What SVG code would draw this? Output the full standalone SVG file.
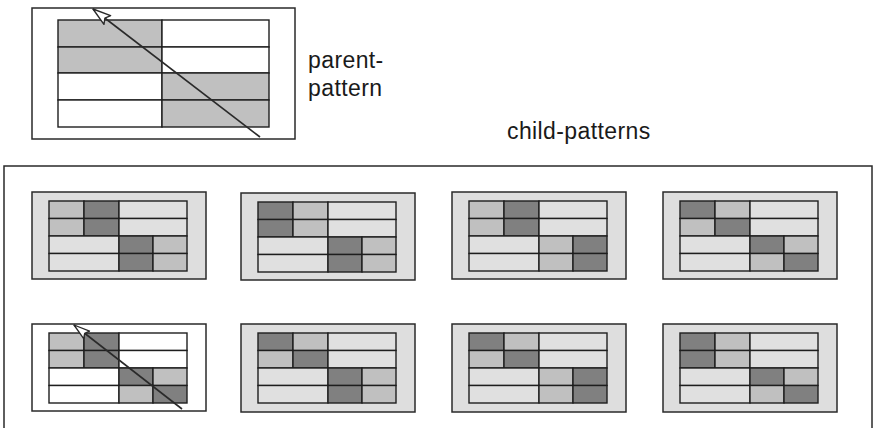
<svg xmlns="http://www.w3.org/2000/svg" width="874" height="428" viewBox="0 0 874 428">
<style>
.frame{fill:none;stroke:#2a2a2a;stroke-width:1.5}
.box{fill:#dedede;stroke:#2a2a2a;stroke-width:1.5}
.boxw{fill:#ffffff;stroke:#2a2a2a;stroke-width:1.5}
.c{stroke:#1e1e1e;stroke-width:1.4}
.l{fill:#c0c0c0}
.d{fill:#808080}
.w{fill:#e0e0e0}
.wh{fill:#ffffff}
.g{fill:#c0c0c0}
.lbl{font-family:"Liberation Sans",Arial,sans-serif;font-size:23px;fill:#1a1a1a;letter-spacing:0.4px}
.arr{fill:none;stroke:#2a2a2a;stroke-width:1.6}
</style>
<defs>
<marker id="hollow" viewBox="0 0 20 14" refX="19" refY="7" markerWidth="20" markerHeight="14" markerUnits="userSpaceOnUse" orient="auto">
<path d="M1,1.5 L19,7 L1,12.5 L4,7 Z" fill="#ffffff" stroke="#2a2a2a" stroke-width="1.4" stroke-linejoin="round"/>
</marker>
<marker id="hollowS" viewBox="0 0 18 12" refX="17" refY="6" markerWidth="18" markerHeight="12" markerUnits="userSpaceOnUse" orient="auto">
<path d="M1,1.2 L17,6 L1,10.8 L3.5,6 Z" fill="#ffffff" stroke="#2a2a2a" stroke-width="1.3" stroke-linejoin="round"/>
</marker>
</defs>
<g id="parent-pattern">
<rect class="frame" x="32" y="8" width="263" height="131"/>
<rect class="c g" x="58" y="20" width="104" height="27"/>
<rect class="c wh" x="162" y="20" width="107" height="27"/>
<rect class="c g" x="58" y="47" width="104" height="26"/>
<rect class="c wh" x="162" y="47" width="107" height="26"/>
<rect class="c wh" x="58" y="73" width="104" height="27"/>
<rect class="c g" x="162" y="73" width="107" height="27"/>
<rect class="c wh" x="58" y="100" width="104" height="27"/>
<rect class="c g" x="162" y="100" width="107" height="27"/>
</g>
<text class="lbl" x="308" y="68">parent-</text>
<text class="lbl" x="308" y="96">pattern</text>
<text class="lbl" x="507" y="139">child-patterns</text>
<g id="child-frame"><rect class="frame" x="4" y="166" width="868" height="300"/></g>
<g id="child1" transform="translate(32,192)">
<rect class="box" x="0" y="0" width="174" height="87"/>
<rect class="c l" x="17" y="9" width="35" height="17.5"/><rect class="c d" x="52" y="9" width="35" height="17.5"/><rect class="c w" x="87" y="9" width="68" height="17.5"/>
<rect class="c l" x="17" y="26.5" width="35" height="17.5"/><rect class="c d" x="52" y="26.5" width="35" height="17.5"/><rect class="c w" x="87" y="26.5" width="68" height="17.5"/>
<rect class="c w" x="17" y="44" width="70" height="17.5"/><rect class="c d" x="87" y="44" width="34" height="17.5"/><rect class="c l" x="121" y="44" width="34" height="17.5"/>
<rect class="c w" x="17" y="61.5" width="70" height="17.5"/><rect class="c d" x="87" y="61.5" width="34" height="17.5"/><rect class="c l" x="121" y="61.5" width="34" height="17.5"/>
</g>
<g id="child2" transform="translate(241,193)">
<rect class="box" x="0" y="0" width="174" height="87"/>
<rect class="c d" x="17" y="9" width="35" height="17.5"/><rect class="c l" x="52" y="9" width="35" height="17.5"/><rect class="c w" x="87" y="9" width="68" height="17.5"/>
<rect class="c d" x="17" y="26.5" width="35" height="17.5"/><rect class="c l" x="52" y="26.5" width="35" height="17.5"/><rect class="c w" x="87" y="26.5" width="68" height="17.5"/>
<rect class="c w" x="17" y="44" width="70" height="17.5"/><rect class="c d" x="87" y="44" width="34" height="17.5"/><rect class="c l" x="121" y="44" width="34" height="17.5"/>
<rect class="c w" x="17" y="61.5" width="70" height="17.5"/><rect class="c d" x="87" y="61.5" width="34" height="17.5"/><rect class="c l" x="121" y="61.5" width="34" height="17.5"/>
</g>
<g id="child3" transform="translate(452,192)">
<rect class="box" x="0" y="0" width="174" height="87"/>
<rect class="c l" x="17" y="9" width="35" height="17.5"/><rect class="c d" x="52" y="9" width="35" height="17.5"/><rect class="c w" x="87" y="9" width="68" height="17.5"/>
<rect class="c l" x="17" y="26.5" width="35" height="17.5"/><rect class="c d" x="52" y="26.5" width="35" height="17.5"/><rect class="c w" x="87" y="26.5" width="68" height="17.5"/>
<rect class="c w" x="17" y="44" width="70" height="17.5"/><rect class="c l" x="87" y="44" width="34" height="17.5"/><rect class="c d" x="121" y="44" width="34" height="17.5"/>
<rect class="c w" x="17" y="61.5" width="70" height="17.5"/><rect class="c l" x="87" y="61.5" width="34" height="17.5"/><rect class="c d" x="121" y="61.5" width="34" height="17.5"/>
</g>
<g id="child4" transform="translate(663,192)">
<rect class="box" x="0" y="0" width="174" height="87"/>
<rect class="c d" x="17" y="9" width="35" height="17.5"/><rect class="c l" x="52" y="9" width="35" height="17.5"/><rect class="c w" x="87" y="9" width="68" height="17.5"/>
<rect class="c l" x="17" y="26.5" width="35" height="17.5"/><rect class="c d" x="52" y="26.5" width="35" height="17.5"/><rect class="c w" x="87" y="26.5" width="68" height="17.5"/>
<rect class="c w" x="17" y="44" width="70" height="17.5"/><rect class="c d" x="87" y="44" width="34" height="17.5"/><rect class="c l" x="121" y="44" width="34" height="17.5"/>
<rect class="c w" x="17" y="61.5" width="70" height="17.5"/><rect class="c l" x="87" y="61.5" width="34" height="17.5"/><rect class="c d" x="121" y="61.5" width="34" height="17.5"/>
</g>
<g id="child5" transform="translate(32,324)">
<rect class="boxw" x="0" y="0" width="174" height="87"/>
<rect class="c l" x="17" y="9" width="35" height="17.5"/><rect class="c d" x="52" y="9" width="35" height="17.5"/><rect class="c wh" x="87" y="9" width="68" height="17.5"/>
<rect class="c l" x="17" y="26.5" width="35" height="17.5"/><rect class="c d" x="52" y="26.5" width="35" height="17.5"/><rect class="c wh" x="87" y="26.5" width="68" height="17.5"/>
<rect class="c wh" x="17" y="44" width="70" height="17.5"/><rect class="c d" x="87" y="44" width="34" height="17.5"/><rect class="c l" x="121" y="44" width="34" height="17.5"/>
<rect class="c wh" x="17" y="61.5" width="70" height="17.5"/><rect class="c l" x="87" y="61.5" width="34" height="17.5"/><rect class="c d" x="121" y="61.5" width="34" height="17.5"/>
</g>
<g id="child6" transform="translate(241,324)">
<rect class="box" x="0" y="0" width="174" height="88"/>
<rect class="c d" x="17" y="9" width="35" height="17.5"/><rect class="c l" x="52" y="9" width="35" height="17.5"/><rect class="c w" x="87" y="9" width="68" height="17.5"/>
<rect class="c l" x="17" y="26.5" width="35" height="17.5"/><rect class="c d" x="52" y="26.5" width="35" height="17.5"/><rect class="c w" x="87" y="26.5" width="68" height="17.5"/>
<rect class="c w" x="17" y="44" width="70" height="17.5"/><rect class="c d" x="87" y="44" width="34" height="17.5"/><rect class="c l" x="121" y="44" width="34" height="17.5"/>
<rect class="c w" x="17" y="61.5" width="70" height="17.5"/><rect class="c d" x="87" y="61.5" width="34" height="17.5"/><rect class="c l" x="121" y="61.5" width="34" height="17.5"/>
</g>
<g id="child7" transform="translate(452,324)">
<rect class="box" x="0" y="0" width="174" height="88"/>
<rect class="c d" x="17" y="9" width="35" height="17.5"/><rect class="c l" x="52" y="9" width="35" height="17.5"/><rect class="c w" x="87" y="9" width="68" height="17.5"/>
<rect class="c l" x="17" y="26.5" width="35" height="17.5"/><rect class="c d" x="52" y="26.5" width="35" height="17.5"/><rect class="c w" x="87" y="26.5" width="68" height="17.5"/>
<rect class="c w" x="17" y="44" width="70" height="17.5"/><rect class="c l" x="87" y="44" width="34" height="17.5"/><rect class="c d" x="121" y="44" width="34" height="17.5"/>
<rect class="c w" x="17" y="61.5" width="70" height="17.5"/><rect class="c l" x="87" y="61.5" width="34" height="17.5"/><rect class="c d" x="121" y="61.5" width="34" height="17.5"/>
</g>
<g id="child8" transform="translate(663,324)">
<rect class="box" x="0" y="0" width="174" height="88"/>
<rect class="c d" x="17" y="9" width="35" height="17.5"/><rect class="c l" x="52" y="9" width="35" height="17.5"/><rect class="c w" x="87" y="9" width="68" height="17.5"/>
<rect class="c d" x="17" y="26.5" width="35" height="17.5"/><rect class="c l" x="52" y="26.5" width="35" height="17.5"/><rect class="c w" x="87" y="26.5" width="68" height="17.5"/>
<rect class="c w" x="17" y="44" width="70" height="17.5"/><rect class="c d" x="87" y="44" width="34" height="17.5"/><rect class="c l" x="121" y="44" width="34" height="17.5"/>
<rect class="c w" x="17" y="61.5" width="70" height="17.5"/><rect class="c l" x="87" y="61.5" width="34" height="17.5"/><rect class="c d" x="121" y="61.5" width="34" height="17.5"/>
</g>
<g id="connectors">
<line class="arr" x1="260" y1="137" x2="93" y2="9" marker-end="url(#hollow)"/>
<line class="arr" x1="182" y1="409" x2="74" y2="325" marker-end="url(#hollowS)"/>
</g>
</svg>
